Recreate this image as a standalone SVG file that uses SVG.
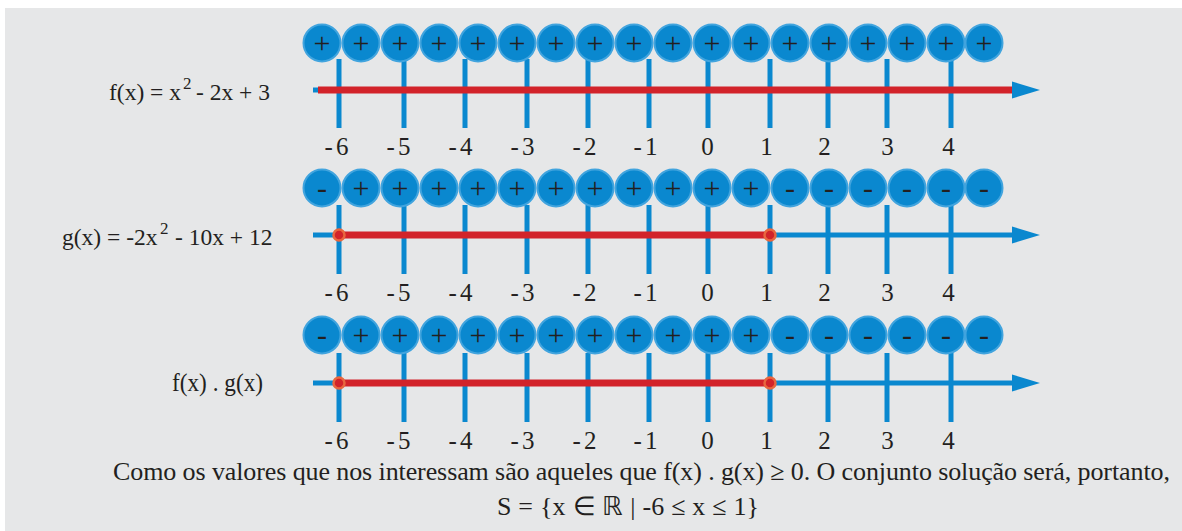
<svg xmlns="http://www.w3.org/2000/svg" xmlns:xlink="http://www.w3.org/1999/xlink" width="1182" height="531" viewBox="0 0 1182 531">
<style>
.t{font-family:"Liberation Serif",serif;fill:#231f20;font-size:25px}
.l{font-size:23.5px}
.c{font-size:26px}
.sup{font-size:17px}
.n{text-anchor:middle;letter-spacing:3px}
.s{text-anchor:middle;font-family:"Liberation Serif",serif;font-size:30px;fill:#231f20}
.tick{stroke:#0a88cf;stroke-width:5}
.ax{stroke:#0a88cf;stroke-width:5}
.red{stroke:#d2232a;stroke-width:7}
.bub{fill:#0a88cf;stroke:#41a4de;stroke-width:2}
.dot{fill:#d2232a;stroke:#e8673f;stroke-width:2.5}
.arr{fill:#0a88cf}
</style>
<defs>
<circle id="b" r="18.5" class="bub"/>
<g id="ticks">
<line class="tick" x1="339" y1="0" x2="339" y2="69"/>
<line class="tick" x1="404" y1="0" x2="404" y2="69"/>
<line class="tick" x1="465" y1="0" x2="465" y2="69"/>
<line class="tick" x1="527" y1="0" x2="527" y2="69"/>
<line class="tick" x1="588" y1="0" x2="588" y2="69"/>
<line class="tick" x1="649" y1="0" x2="649" y2="69"/>
<line class="tick" x1="708" y1="0" x2="708" y2="69"/>
<line class="tick" x1="770" y1="0" x2="770" y2="69"/>
<line class="tick" x1="828" y1="0" x2="828" y2="69"/>
<line class="tick" x1="887" y1="0" x2="887" y2="69"/>
<line class="tick" x1="951" y1="0" x2="951" y2="69"/>
</g>
<g id="bubbles">
<use xlink:href="#b" x="322"/><use xlink:href="#b" x="361"/><use xlink:href="#b" x="400"/><use xlink:href="#b" x="439"/><use xlink:href="#b" x="478"/><use xlink:href="#b" x="517"/><use xlink:href="#b" x="556"/><use xlink:href="#b" x="595"/><use xlink:href="#b" x="634"/><use xlink:href="#b" x="673"/><use xlink:href="#b" x="712"/><use xlink:href="#b" x="751"/><use xlink:href="#b" x="790"/><use xlink:href="#b" x="829"/><use xlink:href="#b" x="868"/><use xlink:href="#b" x="907"/><use xlink:href="#b" x="946"/><use xlink:href="#b" x="984"/>
</g>
<g id="labels" class="t n">
<text x="338">-6</text><text x="400">-5</text><text x="462">-4</text><text x="524">-3</text><text x="586">-2</text><text x="647">-1</text><text x="709">0</text><text x="768">1</text><text x="826">2</text><text x="889">3</text><text x="950">4</text>
</g>
</defs>
<rect x="5" y="8" width="1177" height="523" fill="#e6e7e8"/>

<g id="row1">
<g id="label-f" class="t l">
<text x="109" y="100">f(x) = x</text>
<text class="sup" x="183" y="89">2</text>
<text x="196" y="100">- 2x + 3</text>
</g>
<use xlink:href="#ticks" y="59"/>
<g id="connectors1">
<line class="ax" x1="313" y1="90" x2="1014" y2="90"/>
<line class="red" x1="318" y1="90" x2="1012" y2="90"/>
<polygon class="arr" points="1012,81.5 1040,90 1012,98.5"/>
</g>
<g id="signs1">
<use xlink:href="#bubbles" y="43"/>
<g class="s"><text x="322" y="53">+</text><text x="361" y="53">+</text><text x="400" y="53">+</text><text x="439" y="53">+</text><text x="478" y="53">+</text><text x="517" y="53">+</text><text x="556" y="53">+</text><text x="595" y="53">+</text><text x="634" y="53">+</text><text x="673" y="53">+</text><text x="712" y="53">+</text><text x="751" y="53">+</text><text x="790" y="53">+</text><text x="829" y="53">+</text><text x="868" y="53">+</text><text x="907" y="53">+</text><text x="946" y="53">+</text><text x="984" y="53">+</text></g>
</g>
<use xlink:href="#labels" y="155"/>
</g>

<g id="row2">
<g id="label-g" class="t l">
<text x="62" y="245">g(x) = -2x</text>
<text class="sup" x="160" y="234">2</text>
<text x="175" y="245">- 10x + 12</text>
</g>
<use xlink:href="#ticks" y="205"/>
<g id="connectors2">
<line class="ax" x1="313" y1="235" x2="1014" y2="235"/>
<line class="red" x1="339" y1="235" x2="770" y2="235"/>
<polygon class="arr" points="1012,226.5 1040,235 1012,243.5"/>
<circle class="dot" cx="339" cy="235" r="5.5"/>
<circle class="dot" cx="770" cy="235" r="5.5"/>
</g>
<g id="signs2">
<use xlink:href="#bubbles" y="188"/>
<g class="s"><text x="322" y="198">-</text><text x="361" y="198">+</text><text x="400" y="198">+</text><text x="439" y="198">+</text><text x="478" y="198">+</text><text x="517" y="198">+</text><text x="556" y="198">+</text><text x="595" y="198">+</text><text x="634" y="198">+</text><text x="673" y="198">+</text><text x="712" y="198">+</text><text x="751" y="198">+</text><text x="790" y="198">-</text><text x="829" y="198">-</text><text x="868" y="198">-</text><text x="907" y="198">-</text><text x="946" y="198">-</text><text x="984" y="198">-</text></g>
</g>
<use xlink:href="#labels" y="301"/>
</g>

<g id="row3">
<text class="t" x="172" y="391" textLength="91" lengthAdjust="spacingAndGlyphs">f(x) . g(x)</text>
<use xlink:href="#ticks" y="353"/>
<g id="connectors3">
<line class="ax" x1="313" y1="383" x2="1014" y2="383"/>
<line class="red" x1="339" y1="383" x2="770" y2="383"/>
<polygon class="arr" points="1012,374.5 1040,383 1012,391.5"/>
<circle class="dot" cx="339" cy="383" r="5.5"/>
<circle class="dot" cx="770" cy="383" r="5.5"/>
</g>
<g id="signs3">
<use xlink:href="#bubbles" y="335"/>
<g class="s"><text x="322" y="345">-</text><text x="361" y="345">+</text><text x="400" y="345">+</text><text x="439" y="345">+</text><text x="478" y="345">+</text><text x="517" y="345">+</text><text x="556" y="345">+</text><text x="595" y="345">+</text><text x="634" y="345">+</text><text x="673" y="345">+</text><text x="712" y="345">+</text><text x="751" y="345">+</text><text x="790" y="345">-</text><text x="829" y="345">-</text><text x="868" y="345">-</text><text x="907" y="345">-</text><text x="946" y="345">-</text><text x="984" y="345">-</text></g>
</g>
<use xlink:href="#labels" y="449"/>
</g>

<g id="caption" class="t c">
<text x="113" y="480" letter-spacing="-0.1">Como os valores que nos interessam são aqueles que f(x) . g(x) ≥  0. O conjunto solução será, portanto,</text>
<text x="497" y="515" letter-spacing="0.2">S = {x ∈ ℝ | -6 ≤ x ≤ 1}</text>
</g>
</svg>
